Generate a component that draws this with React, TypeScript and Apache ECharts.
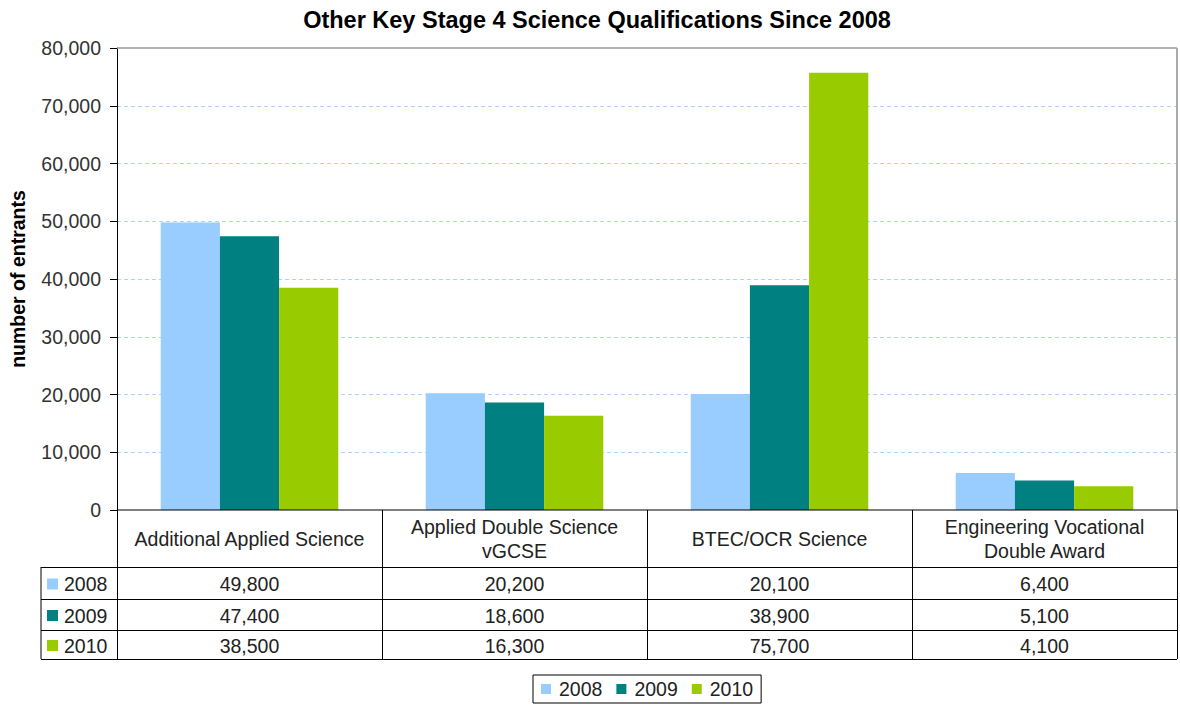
import React, { useEffect, useRef } from "react";
import * as echarts from "echarts";

const categories = [
  "Additional Applied Science",
  "Applied Double Science\nvGCSE",
  "BTEC/OCR Science",
  "Engineering Vocational\nDouble Award",
];
const seriesNames = ["2008", "2009", "2010"];
const values2008 = [49800, 20200, 20100, 6400];
const values2009 = [47400, 18600, 38900, 5100];
const values2010 = [38500, 16300, 75700, 4100];
const colors = ["#99CCFF", "#008080", "#99CC00"];
const yTicks = { min: 0, max: 80000, interval: 10000 };

const FONT = "'Liberation Sans', Arial, sans-serif";
const FS = 19.5;

export default function App() {
  const ref = useRef<HTMLDivElement>(null);
  useEffect(() => {
    if (!ref.current) return;
    const chart = echarts.init(ref.current, null, { renderer: "svg" });
    const allValues = [values2008, values2009, values2010];

    const gLeft = 117;
    const gRight = 1177;
    const gTop = 48;
    const gBottom = 510;
    const colW = (gRight - gLeft) / categories.length;
    const headerBottom = 567;
    const rowLines = [567, 599, 630, 659];
    const labelLeft = 41;

    const graphics: any[] = [];
    const lineStyle = { stroke: "#000", lineWidth: 1 };
    graphics.push({ type: "line", shape: { x1: gLeft, y1: gTop, x2: gRight, y2: gTop }, style: { stroke: "#999", lineWidth: 1.5 }, z: 10 });
    graphics.push({ type: "line", shape: { x1: gRight, y1: gTop, x2: gRight, y2: gBottom }, style: { stroke: "#aaa", lineWidth: 2 }, z: 10 });
    graphics.push({ type: "line", shape: { x1: gLeft, y1: gBottom, x2: gRight, y2: gBottom }, style: lineStyle, z: 10 });
    for (let k = 0; k <= categories.length; k++) {
      const x = Math.round(gLeft + k * colW) + 0.5;
      graphics.push({ type: "line", shape: { x1: x, y1: gBottom, x2: x, y2: rowLines[rowLines.length - 1] }, style: lineStyle, z: 10 });
    }
    graphics.push({ type: "line", shape: { x1: labelLeft, y1: headerBottom, x2: labelLeft, y2: rowLines[rowLines.length - 1] }, style: lineStyle, z: 10 });
    rowLines.forEach((y) => {
      graphics.push({ type: "line", shape: { x1: labelLeft, y1: y + 0.5, x2: gRight, y2: y + 0.5 }, style: lineStyle, z: 10 });
    });
    categories.forEach((c, i) => {
      graphics.push({
        type: "text",
        x: gLeft + (i + 0.5) * colW,
        y: (gBottom + headerBottom) / 2,
        style: { text: c, align: "center", verticalAlign: "middle", font: `${FS}px ${FONT}`, fill: "#222", lineHeight: 24 },
        z: 10,
      });
    });
    seriesNames.forEach((s, r) => {
      const cy = (rowLines[r] + rowLines[r + 1]) / 2 + 1;
      graphics.push({ type: "rect", shape: { x: 47, y: cy - 5.5, width: 11, height: 11 }, style: { fill: colors[r] }, z: 10 });
      graphics.push({ type: "text", x: 64, y: cy, style: { text: s, align: "left", verticalAlign: "middle", font: `${FS}px ${FONT}`, fill: "#222" }, z: 10 });
      allValues[r].forEach((v, i) => {
        graphics.push({
          type: "text",
          x: gLeft + (i + 0.5) * colW,
          y: cy,
          style: { text: v.toLocaleString("en-US"), align: "center", verticalAlign: "middle", font: `${FS}px ${FONT}`, fill: "#222" },
          z: 10,
        });
      });
    });
    graphics.push({
      type: "text",
      x: 18,
      y: 279,
      rotation: Math.PI / 2,
      style: { text: "number of entrants", align: "center", verticalAlign: "middle", font: `bold 19.5px ${FONT}`, fill: "#000" },
      z: 10,
    });

    chart.setOption({
      animation: false,
      backgroundColor: "#fff",
      title: {
        text: "Other Key Stage 4 Science Qualifications Since 2008",
        left: 592,
        textAlign: "center",
        top: 3,
        textStyle: { fontFamily: FONT, fontSize: 23.5, fontWeight: "bold", color: "#000" },
      },
      legend: {
        data: seriesNames,
        left: 533,
        top: 675,
        icon: "rect",
        itemWidth: 10,
        itemHeight: 10,
        itemGap: 14,
        padding: [4, 8, 4, 8],
        borderColor: "#000",
        borderWidth: 1,
        textStyle: { fontFamily: FONT, fontSize: FS, color: "#222", padding: [0, 0, 0, 3] },
      },
      grid: { left: gLeft, right: 1180 - gRight, top: gTop, bottom: 707 - gBottom, containLabel: false },
      xAxis: {
        type: "category",
        data: categories,
        axisLine: { show: false },
        axisTick: { show: false },
        axisLabel: { show: false },
      },
      yAxis: {
        type: "value",
        min: yTicks.min,
        max: yTicks.max,
        interval: yTicks.interval,
        axisLine: { show: true, lineStyle: { color: "#000", width: 1 } },
        axisTick: { show: true, length: 7, lineStyle: { color: "#000" } },
        axisLabel: {
          margin: 16,
          fontFamily: FONT,
          fontSize: FS,
          color: "#333",
          formatter: (v: number) => v.toLocaleString("en-US"),
        },
        splitLine: {
          show: true,
          showMaxLine: false,
          showMinLine: false,
          lineStyle: { color: "#a8d4ff", type: [4, 3], width: 1 },
        },
      },
      series: seriesNames.map((s, i) => ({
        name: s,
        type: "bar",
        data: allValues[i],
        barGap: "0%",
        barCategoryGap: "33%",
        itemStyle: { color: colors[i] },
      })),
      graphic: graphics,
    });
    return () => chart.dispose();
  }, []);
  return (
    <div
      ref={ref}
      style={{ position: "fixed", left: 0, top: 0, width: 1180, height: 707 }}
    />
  );
}
